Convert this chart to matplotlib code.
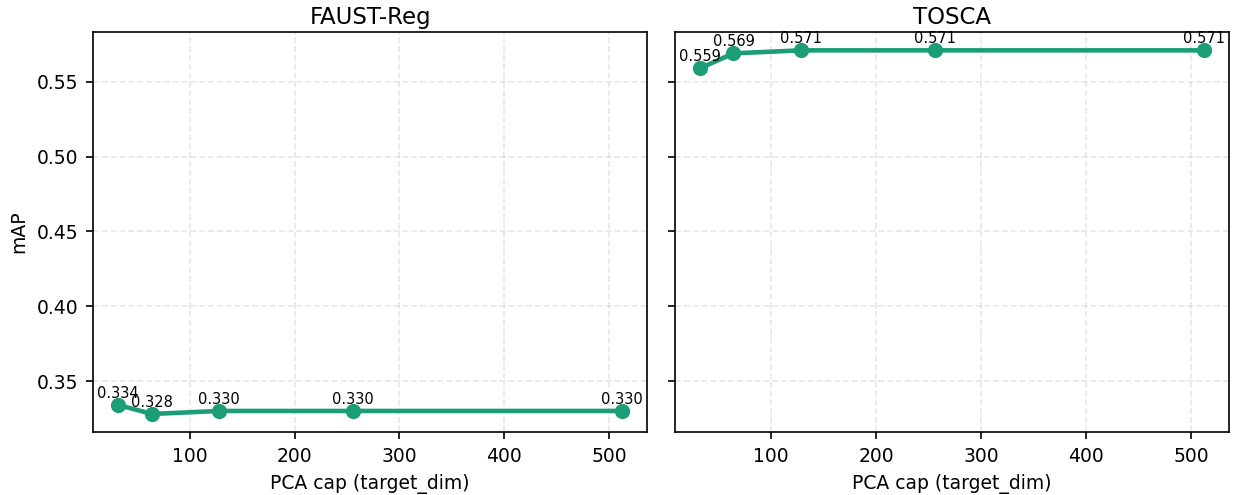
import matplotlib
matplotlib.use('Agg')
import matplotlib.pyplot as plt

plt.rcParams.update({'font.size': 9})

caps = [32, 64, 128, 256, 512]
faust_map = [0.334, 0.328, 0.330, 0.330, 0.330]
tosca_map = [0.559, 0.569, 0.571, 0.571, 0.571]
titles = ['FAUST-Reg', 'TOSCA']

fig, axes = plt.subplots(1, 2, figsize=(1233 / 150, 495 / 150), dpi=150, sharey=True)
for ax, vals, title in zip(axes, [faust_map, tosca_map], titles):
    ax.plot(caps, vals, 'o-', color='#1b9e77', lw=2.2, ms=6.3)
    for x, y in zip(caps, vals):
        ax.annotate(f'{y:.3f}', (x, y), textcoords='offset points', xytext=(0, 2),
                    ha='center', va='bottom', fontsize=7)
    ax.set_title(title, fontsize=11, pad=4)
    ax.set_xlabel('PCA cap (target_dim)')
    ax.grid(True, ls='--', alpha=0.3)
axes[0].set_ylabel('mAP')
fig.subplots_adjust(left=0.0755, right=0.9965, top=0.935, bottom=0.127, wspace=0.05)
plt.savefig('out.png')
